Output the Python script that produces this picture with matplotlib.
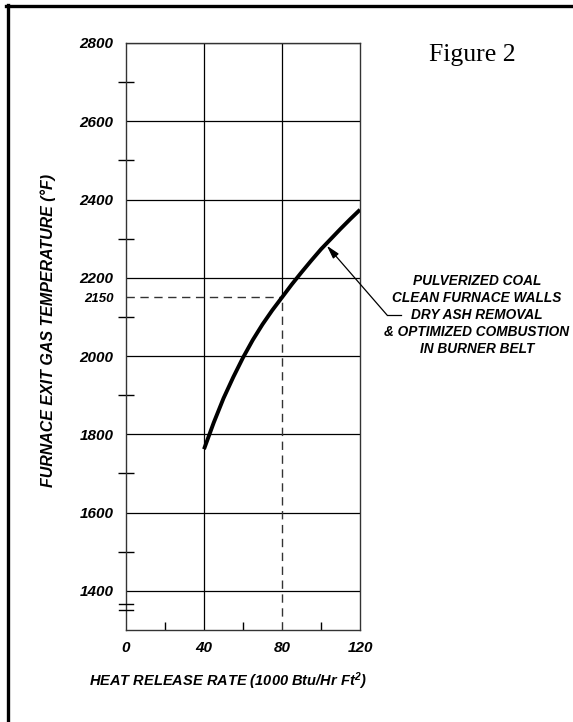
import numpy as np
import matplotlib
matplotlib.use("Agg")
import matplotlib.pyplot as plt
from matplotlib.lines import Line2D

plt.rcParams["font.family"] = ["Liberation Sans", "DejaVu Sans"]
plt.rcParams["mathtext.fontset"] = "custom"
plt.rcParams["mathtext.rm"] = "Liberation Sans:italic:bold"
plt.rcParams["mathtext.it"] = "Liberation Sans:italic:bold"

# --- data ---
heat_release = [40, 45, 50, 55, 60, 65, 70, 75, 80, 85, 90, 95, 100, 105, 110, 115, 120]
exit_temp = [1762, 1830, 1892, 1946, 1996, 2041, 2081, 2117, 2150, 2183, 2214, 2244,
             2273, 2299, 2325, 2350, 2374]

x_major = [0, 40, 80, 120]
x_minor = [20, 60, 100]
y_major = [1400, 1600, 1800, 2000, 2200, 2400, 2600, 2800]
y_minor = [1500, 1700, 1900, 2100, 2300, 2500, 2700]
design_x, design_y = 80, 2150
arrow_at = (103, 2282)
curve_label = "PULVERIZED COAL\nCLEAN FURNACE WALLS\nDRY ASH REMOVAL\n& OPTIMIZED COMBUSTION\nIN BURNER BELT"

W, H = 573, 722
fig = plt.figure(figsize=(W / 100, H / 100), dpi=100)
ax = fig.add_axes([126 / W, 1 - 630 / H, 234 / W, 587 / H])

ax.set_xlim(0, 120)
ax.set_ylim(1300, 2800)

# grid (the x=80 line turns dashed below the design point)
for y in y_major:
    ax.axhline(y, color="black", lw=0.9, zorder=1)
ax.axvline(40, color="black", lw=0.9, zorder=1)
ax.plot([design_x, design_x], [design_y, 2800], color="black", lw=0.9, zorder=1)

for s in ax.spines.values():
    s.set_linewidth(1.0)
    s.set_color("#333333")

font_b = dict(fontweight="bold", fontstyle="italic", family="Liberation Sans")

ax.set_xticks(x_major)
ax.set_xticklabels([str(v) for v in x_major], fontsize=11, **font_b)
ax.set_xticks(x_minor, minor=True)
ax.tick_params(axis="x", which="major", length=0, pad=8)
ax.tick_params(axis="x", which="minor", direction="in", length=6, width=1)

ax.set_yticks(y_major + [design_y])
ax.set_yticklabels([str(v) for v in y_major] + [str(design_y)], fontsize=11, **font_b)
for lab in ax.get_yticklabels():
    if lab.get_text() == str(design_y):
        lab.set_fontsize(9.5)
ax.set_yticks(y_minor, minor=True)
ax.tick_params(axis="y", which="major", length=0, pad=9)
ax.tick_params(axis="y", which="minor", direction="inout", length=12, width=1)

# design point dashed guides
ax.plot([0, design_x], [design_y, design_y], color="#333333", lw=1.0,
        dashes=(6, 4), zorder=2)
ax.plot([design_x, design_x], [1300, design_y], color="#333333", lw=1.0,
        dashes=(6, 4), zorder=2)

# curve
ax.plot(heat_release, exit_temp, color="black", lw=2.8, zorder=3,
        solid_capstyle="butt")

# axis break marks
for yb in (1350, 1366):
    ax.plot([-3.5, 3.5], [yb, yb], color="black", lw=1.0, clip_on=False, zorder=4)

# annotation: label, short horizontal leader, then arrow to the curve
fig.text(477 / W, 1 - 315 / H, curve_label, ha="center", va="center",
         fontsize=9.8, linespacing=1.27, **font_b)
fig.add_artist(Line2D([387 / W, 401 / W], [1 - 315 / H, 1 - 315 / H],
                      color="black", lw=0.9, transform=fig.transFigure))
ax.annotate("", xy=arrow_at, xycoords="data",
            xytext=(387 / W, 1 - 315 / H), textcoords="figure fraction",
            arrowprops=dict(arrowstyle="-|>,head_length=0.8,head_width=0.22",
                            color="black", lw=0.9, shrinkA=0, shrinkB=0))

ax.set_xlabel("HEAT RELEASE RATE (1000 Btu/Hr Ft$^{2}$)", fontsize=10.5, **font_b)
ax.xaxis.set_label_coords(0.435, -0.068)
ax.set_ylabel("FURNACE EXIT GAS TEMPERATURE (°F)", fontsize=11.5, **font_b)
ax.yaxis.set_label_coords(-0.30, 0.51)

fig.text(472 / W, 1 - 55 / H, "Figure 2", family="Liberation Serif",
         fontsize=18.5, ha="center", va="center")

# page border (top and left only visible)
fig.add_artist(Line2D([6 / W, 1], [1 - 6 / H, 1 - 6 / H], color="black", lw=2.4,
                      transform=fig.transFigure))
fig.add_artist(Line2D([7.5 / W, 7.5 / W], [0, 1 - 5 / H], color="black", lw=2.4,
                      transform=fig.transFigure))

fig.savefig("out.png", dpi=100)
